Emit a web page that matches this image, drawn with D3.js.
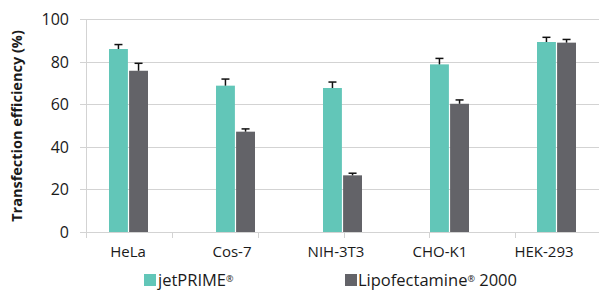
<!DOCTYPE html>
<meta charset="utf-8">
<style>
body { margin: 0; background: #fff; }
svg text { font-family: "Open Sans", "Noto Sans", sans-serif; fill: #1a1a1a; }
.grid line { stroke: #d3d3d3; stroke-width: 1px; }
.ylab { font-size: 16px; }
.xlab { font-size: 15px; }
.title { font-size: 14.5px; font-weight: bold; }
.legend text { font-size: 16.5px; }
</style>
<svg width="599" height="297"></svg>
<script src="https://d3js.org/d3.v7.min.js"></script>
<script>

var categories = ["HeLa", "Cos-7", "NIH-3T3", "CHO-K1", "HEK-293"];
var series = ["jetPRIME", "Lipofectamine 2000"];
var jetprime = [85.9, 68.7, 67.6, 78.7, 89.2];
var jetprimeErr = [2.1, 3.1, 2.8, 2.8, 2.2];
var lipofectamine = [75.7, 47.1, 26.6, 60.2, 88.9];
var lipofectamineErr = [3.5, 1.3, 1.0, 1.8, 1.5];
var yTicks = [0, 20, 40, 60, 80, 100];
var colors = ["#62c6b8", "#636368"];

var svg = d3.select("svg");

var y = d3.scaleLinear().domain([0, 100]).range([232, 19]);

var x = d3.scaleBand().domain(categories).range([75.5, 610.5]);
var x1 = d3.scaleBand().domain(series).range([-20, 19]).paddingInner(0.06);
var xLab = d3.scaleBand().domain(categories).range([76, 596]);
var xTick = d3.scaleLinear().domain([0, 6]).range([86.5, 601]);

var rows = categories.map(function(c, i) {
  return [
    {cat: c, s: series[0], v: jetprime[i], e: jetprimeErr[i]},
    {cat: c, s: series[1], v: lipofectamine[i], e: lipofectamineErr[i]}
  ];
});

// gridlines
svg.append("g")
    .attr("class", "grid")
  .selectAll("line")
  .data(yTicks)
  .enter().append("line")
    .attr("x1", 80)
    .attr("x2", 599)
    .attr("y1", function(d) { return Math.round(y(d)) + 0.5; })
    .attr("y2", function(d) { return Math.round(y(d)) + 0.5; });

svg.append("line")
    .attr("x1", 86.5).attr("x2", 86.5)
    .attr("y1", y(100)).attr("y2", y(0) + 6)
    .attr("stroke", "#d3d3d3");

svg.append("g")
  .selectAll("line")
  .data(d3.range(1, 6))
  .enter().append("line")
    .attr("x1", function(d) { return Math.round(xTick(d)) + 0.5; })
    .attr("x2", function(d) { return Math.round(xTick(d)) + 0.5; })
    .attr("y1", y(0))
    .attr("y2", y(0) + 6)
    .attr("stroke", "#d3d3d3");

svg.append("g")
  .selectAll("text")
  .data(yTicks)
  .enter().append("text")
    .attr("class", "ylab")
    .attr("x", 69)
    .attr("y", function(d) { return y(d) + 6; })
    .attr("text-anchor", "end")
    .text(function(d) { return d; });

svg.append("text")
    .attr("class", "title")
    .attr("transform", "translate(22,126) rotate(-90)")
    .attr("text-anchor", "middle")
    .text("Transfection efficiency (%)");

// bars
var groups = svg.append("g")
  .selectAll("g")
  .data(rows)
  .enter().append("g")
    .attr("transform", function(d) { return "translate(" + (x(d[0].cat) + x.bandwidth() / 2) + ",0)"; });

groups.selectAll("rect")
  .data(function(d) { return d; })
  .enter().append("rect")
    .attr("x", function(d) { return x1(d.s); })
    .attr("width", x1.bandwidth())
    .attr("y", function(d) { return y(d.v); })
    .attr("height", function(d) { return y(0) - y(d.v); })
    .attr("fill", function(d, i) { return colors[i]; });

var err = groups.selectAll("g.err")
  .data(function(d) { return d; })
  .enter().append("g")
    .attr("class", "err")
    .attr("stroke", "#111")
    .attr("stroke-width", 1.5);

err.append("line")
    .attr("x1", function(d) { return x1(d.s) + x1.bandwidth() / 2; })
    .attr("x2", function(d) { return x1(d.s) + x1.bandwidth() / 2; })
    .attr("y1", function(d) { return y(d.v); })
    .attr("y2", function(d) { return y(d.v + d.e); });

err.append("line")
    .attr("x1", function(d) { return x1(d.s) + x1.bandwidth() / 2 - 4; })
    .attr("x2", function(d) { return x1(d.s) + x1.bandwidth() / 2 + 4; })
    .attr("y1", function(d) { return y(d.v + d.e); })
    .attr("y2", function(d) { return y(d.v + d.e); });

svg.append("g")
  .selectAll("text")
  .data(categories)
  .enter().append("text")
    .attr("class", "xlab")
    .attr("x", function(d) { return xLab(d) + xLab.bandwidth() / 2; })
    .attr("y", 257)
    .attr("text-anchor", "middle")
    .text(function(d) { return d; });

// legend
var legend = svg.append("g").attr("class", "legend");
var legX = [144, 345];

legend.selectAll("rect")
  .data(series)
  .enter().append("rect")
    .attr("x", function(d, i) { return legX[i]; })
    .attr("y", 274)
    .attr("width", 12)
    .attr("height", 12)
    .attr("fill", function(d, i) { return colors[i]; });

var t0 = legend.append("text").attr("x", legX[0] + 14).attr("y", 286);
t0.append("tspan").text("jetPRIME");
t0.append("tspan").attr("font-size", "9px").attr("dy", -4).text("®");

var t1 = legend.append("text").attr("x", legX[1] + 13).attr("y", 286);
t1.append("tspan").text("Lipofectamine");
t1.append("tspan").attr("font-size", "9px").attr("dy", -4).text("®");
t1.append("tspan").attr("dy", 4).text(" 2000");

</script>
